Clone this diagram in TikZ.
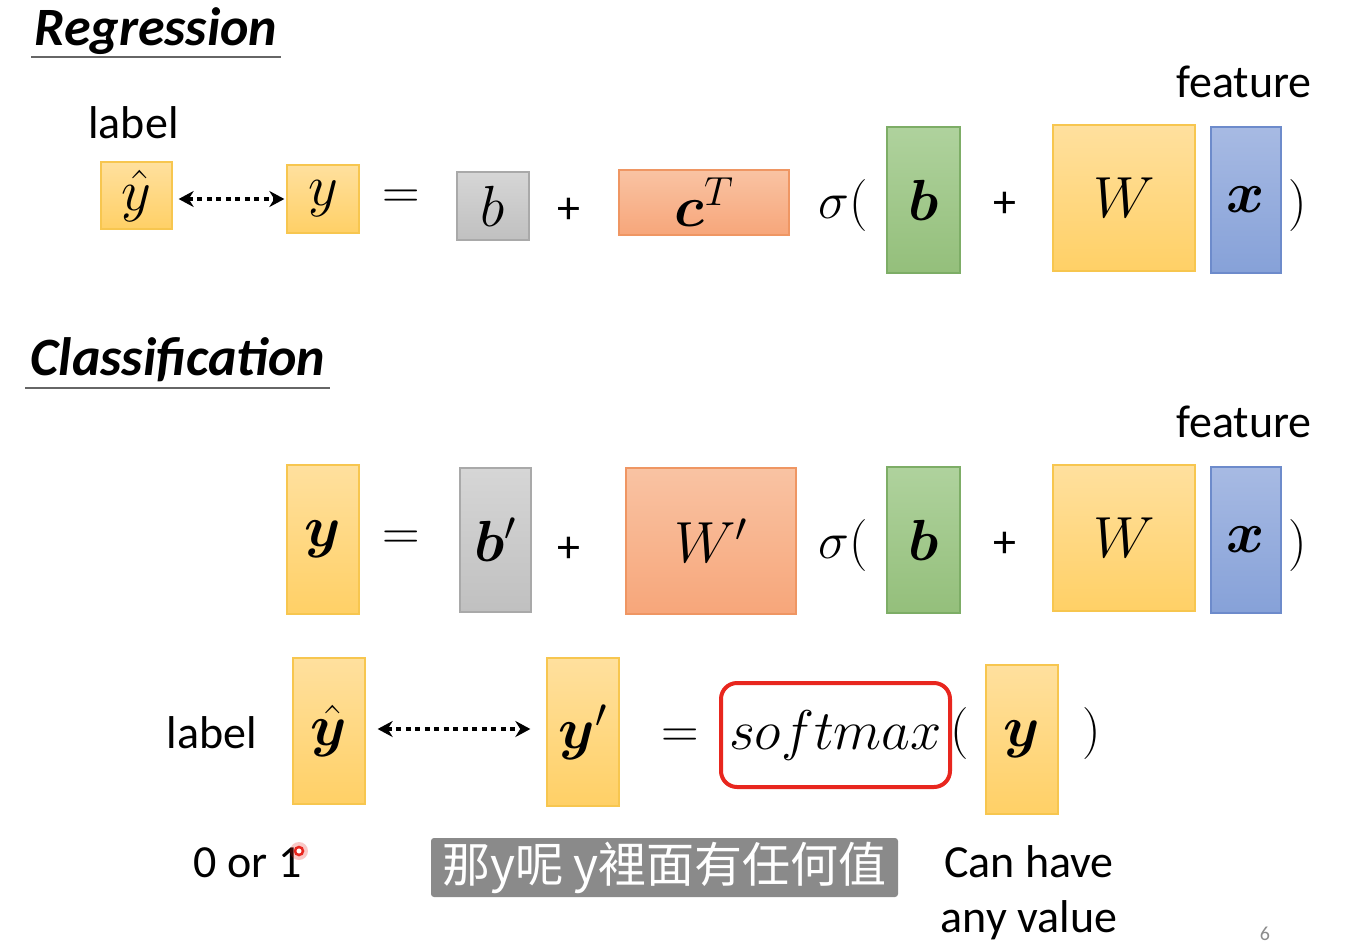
\RequirePackage{fix-cm}
\documentclass[tikz,border=0pt]{standalone}
\usepackage{amsmath}
\usepackage{bm}
\usepackage{fontspec}
\setmainfont{Carlito}
\newfontfamily\cjkfont{Noto Sans CJK TC}
\usetikzlibrary{arrows.meta}
\definecolor{yT}{HTML}{FFE09E}
\definecolor{yB}{HTML}{FFD066}
\definecolor{yD}{HTML}{F7C64F}
\definecolor{gT}{HTML}{D6D6D6}
\definecolor{gB}{HTML}{C0C0C0}
\definecolor{gD}{HTML}{A9A9A9}
\definecolor{sT}{HTML}{F9C3A3}
\definecolor{sB}{HTML}{F7A67A}
\definecolor{sD}{HTML}{EF9663}
\definecolor{nT}{HTML}{AFD29D}
\definecolor{nB}{HTML}{94BF7B}
\definecolor{nD}{HTML}{7DAD66}
\definecolor{bT}{HTML}{A7BAE3}
\definecolor{bB}{HTML}{86A1D8}
\definecolor{bD}{HTML}{6D8BCB}
\definecolor{subgray}{HTML}{8A8A8A}
\definecolor{laser}{HTML}{E8261E}
\newcommand\mfont{\fontsize{52}{60}\selectfont}
\newcommand\lfont{\fontsize{58}{66}\selectfont}
\newcommand\tfont{\fontsize{46}{55}\selectfont}
\tikzset{
  mbox/.style={draw, line width=1.3pt, inner sep=0pt, font=\lfont},
  ybox/.style={mbox, top color=yT, bottom color=yB, draw=yD},
  gbox/.style={mbox, top color=gT, bottom color=gB, draw=gD},
  sbox/.style={mbox, top color=sT, bottom color=sB, draw=sD},
  nbox/.style={mbox, top color=nT, bottom color=nB, draw=nD},
  bbox/.style={mbox, top color=bT, bottom color=bB, draw=bD},
  txt/.style={inner sep=0pt, font=\tfont, anchor=base},
  ttl/.style={inner sep=0pt, font=\fontsize{54}{64}\selectfont\bfseries\itshape, anchor=base},
  op/.style={inner sep=0pt, font=\mfont},
  pl/.style={inner sep=0pt, font=\tfont},
  uline/.style={draw=black!60, line width=2pt},
  darr/.style={line width=4.5pt, dash pattern=on 5pt off 4.5pt,
    {Stealth[length=15pt,width=16pt]}-{Stealth[length=15pt,width=16pt]}}
}
\begin{document}
\begin{tikzpicture}[x=1pt,y=-1pt]
\useasboundingbox[fill=white] (0,0) rectangle (1355,943);

% ---------------- Regression ----------------
\node[ttl] (regt) at (156,45) {Regression};
\draw[uline] (31,57) -- (281,57);
\node[txt] (lab1) at (133.5,138) {label};
\node[txt] (feat1) at (1244,97) {feature};

\node[ybox, minimum width=71, minimum height=67] (yh1) at (136.5,195.5) {$\hat{y}$};
\node[ybox, minimum width=72, minimum height=68] (y1) at (323,199) {$y$};
\draw[darr, shorten <=6pt, shorten >=2pt] (yh1.east |- y1.west) -- (y1.west);
\node[op] (eq1) at (401,199) {$=$};
\node[gbox, minimum width=72, minimum height=68] (b1) at (493,206) {$b$};
\node[pl] (pl1) at (569,211) {+};
\node[sbox, minimum width=170, minimum height=65] (c1) at (704,202.5) {$\bm{c}^T$};
\node[op] (sig1) at (843,205) {$\sigma($};
\node[nbox, minimum width=73, minimum height=146] (bb1) at (923.5,200) {$\bm{b}$};
\node[pl] (pl2) at (1005,205) {+};
\node[ybox, minimum width=142, minimum height=146] (W1) at (1124,198) {$W$};
\node[bbox, minimum width=70, minimum height=146] (x1) at (1246,200) {$\bm{x}$};
\node[op] (rp1) at (1298,205) {$)$};

% ---------------- Classification ----------------
\node[ttl] (clst) at (178,375) {Classification};
\draw[uline] (25,388) -- (330,388);
\node[txt] (feat2) at (1244,437) {feature};

\node[ybox, minimum width=72, minimum height=149] (y2) at (323,539.5) {$\bm{y}$};
\node[op] (eq2) at (401,540) {$=$};
\node[gbox, minimum width=71, minimum height=144] (b2) at (495.5,540) {$\bm{b}'$};
\node[pl] (pl3) at (569,550) {+};
\node[sbox, minimum width=170, minimum height=146] (W2p) at (711,541) {$W'$};
\node[op] (sig2) at (843,545) {$\sigma($};
\node[nbox, minimum width=73, minimum height=146] (bb2) at (923.5,540) {$\bm{b}$};
\node[pl] (pl4) at (1005,545) {+};
\node[ybox, minimum width=142, minimum height=146] (W2) at (1124,538) {$W$};
\node[bbox, minimum width=70, minimum height=146] (x2) at (1246,540) {$\bm{x}$};
\node[op] (rp2) at (1298,545) {$)$};

% ---------------- softmax row ----------------
\node[txt] (lab2) at (212,748) {label};
\node[ybox, minimum width=72, minimum height=146] (yh2) at (329,731) {$\hat{\bm{y}}$};
\node[ybox, minimum width=72, minimum height=148] (yp) at (583,732) {$\bm{y}'$};
\draw[darr, shorten <=12pt, shorten >=16pt] (yh2.east |- 0,729) -- (yp.west |- 0,729);
\node[op] (eq3) at (680,738) {$=$};
\node[draw=laser, line width=4pt, rounded corners=16pt, minimum width=229, minimum height=104,
      inner sep=0pt, font=\fontsize{56}{64}\selectfont] (sm) at (835.5,735) {$softmax$};
\node[op] (lp3) at (960,733) {$($};
\node[ybox, minimum width=72, minimum height=149] (y3) at (1022,739.5) {$\bm{y}$};
\node[op] (rp3) at (1092,733) {$)$};

\node[txt] (zo) at (247.5,877) {0 or 1};
\node[txt] (can1) at (1029,877) {Can have};
\node[txt] (can2) at (1029,932) {any value};
\node[inner sep=0pt, anchor=base, font=\fontsize{20}{24}\selectfont, text=black!45] (pg) at (1265,940) {6};

% laser pointer dot
\fill[laser, opacity=0.25] (299,851) circle (9);
\draw[laser, line width=2.5pt, fill=white] (299,851) circle (4);

% subtitle
\node[fill=subgray, rounded corners=3pt, minimum width=467, minimum height=59, inner sep=0pt,
      text=white, font=\fontsize{48}{56}\selectfont\cjkfont] (sub) at (664.5,867.5) {那y呢 y裡面有任何值};
\end{tikzpicture}
\end{document}
